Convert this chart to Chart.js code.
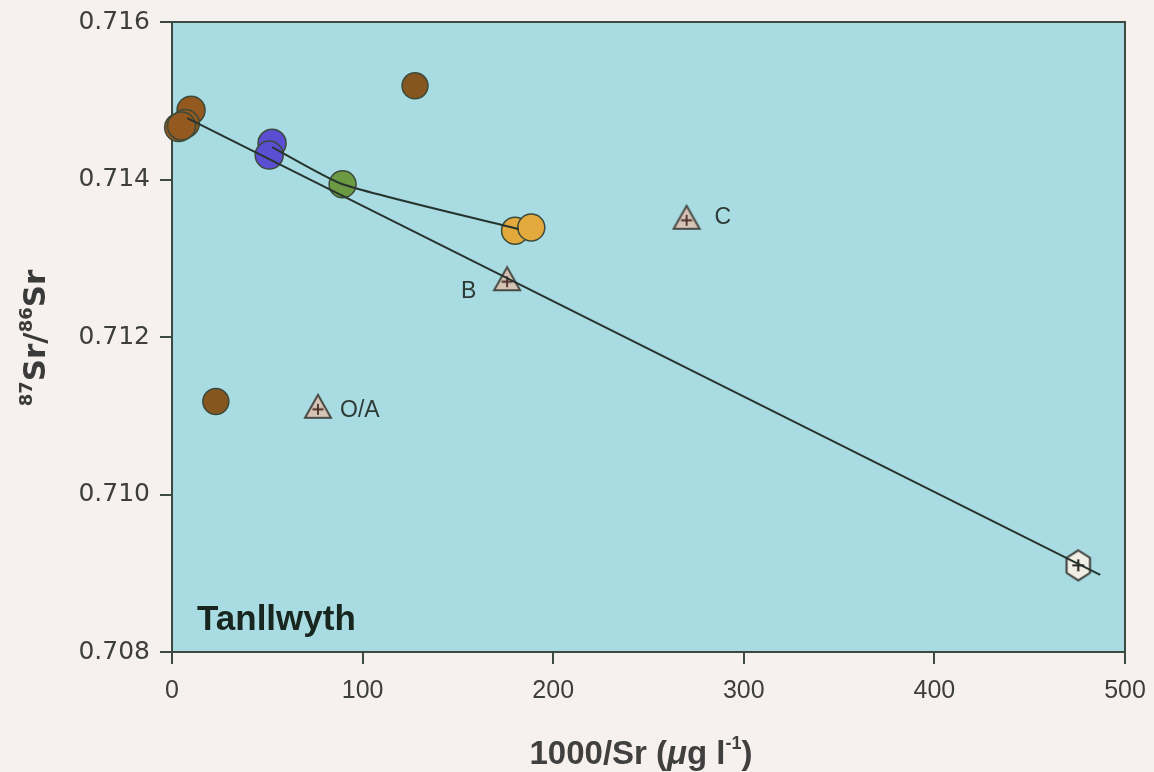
<!DOCTYPE html>
<html lang="en">
<head>
    <meta charset="UTF-8">
    <title>Tanllwyth Sr isotopes</title>
    <script src="https://cdn.jsdelivr.net/npm/chart.js"></script>
    <style>
        html, body {
            margin: 0;
            padding: 0;
            background: #f6f1ef;
            overflow: hidden;
        }
        canvas {
            display: block;
        }
    </style>
</head>
<body>
    <canvas id="srChart" width="1154" height="772"></canvas>
    <script>
        // stream water samples (x = 1000/Sr, y = 87Sr/86Sr)
        const brownClusterX = [10, 7, 3.5, 5];
        const brownClusterY = [0.71488, 0.71471, 0.71466, 0.71468];
        const brownOtherX = [127.5, 23];
        const brownOtherY = [0.71519, 0.71118];
        const blueX = [52.5, 51];
        const blueY = [0.71446, 0.71431];
        const greenX = [89.5];
        const greenY = [0.71394];
        const orangeX = [180, 188.5];
        const orangeY = [0.71335, 0.71339];

        // end members (soil / bedrock horizons) and rainfall
        const endNames = ['O/A', 'B', 'C'];
        const endX = [76.6, 175.8, 270];
        const endY = [0.71112, 0.71274, 0.71352];
        const rainX = [475.5];
        const rainY = [0.70910];

        // mixing lines
        const mixLineX = [8, 487];
        const mixLineY = [0.71478, 0.70898];
        const upperLineX = [52.5, 89.5, 182];
        const upperLineY = [0.71441, 0.71394, 0.71337];

        const xTicks = [0, 100, 200, 300, 400, 500];
        const yTicks = [0.708, 0.710, 0.712, 0.714, 0.716];

        const toPoints = (xs, ys) => xs.map((x, i) => ({ x: x, y: ys[i] }));

        function makeTriangle() {
            const c = document.createElement('canvas');
            c.width = 30; c.height = 27;
            const g = c.getContext('2d');
            g.beginPath();
            g.moveTo(15, 2);
            g.lineTo(28, 25);
            g.lineTo(2, 25);
            g.closePath();
            g.fillStyle = '#d5c4b6';
            g.fill();
            g.strokeStyle = '#4a4a44';
            g.lineWidth = 2;
            g.stroke();
            g.beginPath();
            g.moveTo(15, 11); g.lineTo(15, 22);
            g.moveTo(9.5, 16.5); g.lineTo(20.5, 16.5);
            g.strokeStyle = '#4a2e28';
            g.lineWidth = 1.8;
            g.stroke();
            return c;
        }

        function makeHexagon() {
            const c = document.createElement('canvas');
            c.width = 32; c.height = 34;
            const g = c.getContext('2d');
            g.beginPath();
            for (let i = 0; i < 6; i++) {
                const a = -Math.PI / 2 + i * Math.PI / 3;
                const px = 16 + 13.5 * Math.cos(a);
                const py = 17 + 15 * Math.sin(a);
                if (i === 0) g.moveTo(px, py); else g.lineTo(px, py);
            }
            g.closePath();
            g.fillStyle = '#f1efe6';
            g.fill();
            g.strokeStyle = '#3a3a36';
            g.lineWidth = 2;
            g.stroke();
            g.beginPath();
            g.moveTo(16, 11); g.lineTo(16, 23);
            g.moveTo(10, 17); g.lineTo(22, 17);
            g.strokeStyle = '#2a2a26';
            g.lineWidth = 2.2;
            g.stroke();
            return c;
        }

        // plot background, frame, titles and text labels
        const plotDecor = {
            id: 'plotDecor',
            beforeDraw(chart) {
                const { ctx, chartArea: a } = chart;
                ctx.save();
                ctx.fillStyle = '#a8dce2';
                ctx.fillRect(a.left, a.top, a.right - a.left, a.bottom - a.top);
                ctx.restore();
            },
            beforeDatasetsDraw(chart) {
                const { ctx, chartArea: a } = chart;
                ctx.save();
                ctx.strokeStyle = '#3d4a42';
                ctx.lineWidth = 2;
                ctx.strokeRect(a.left, a.top, a.right - a.left, a.bottom - a.top);
                ctx.restore();
            },
            afterDraw(chart) {
                const { ctx, chartArea: a, scales } = chart;
                ctx.save();

                // end member labels
                ctx.fillStyle = '#2e3a36';
                ctx.font = '23px "Liberation Sans", Arial, sans-serif';
                ctx.textBaseline = 'middle';
                ctx.textAlign = 'left';
                const offsets = [[22, 4], [-46, 13], [28, 0]];
                endNames.forEach((name, i) => {
                    const px = scales.x.getPixelForValue(endX[i]);
                    const py = scales.y.getPixelForValue(endY[i]);
                    ctx.fillText(name, px + offsets[i][0], py + offsets[i][1]);
                });

                // catchment name
                ctx.font = 'bold 35px "Liberation Sans", Arial, sans-serif';
                ctx.fillStyle = '#18261f';
                ctx.textBaseline = 'alphabetic';
                ctx.fillText('Tanllwyth', a.left + 25, a.bottom - 22);

                // y axis title with superscripts
                const big = 'bold 31px "DejaVu Sans", sans-serif';
                const small = 'bold 18px "DejaVu Sans", sans-serif';
                const parts = [['87', small, -13], ['Sr/', big, 0], ['86', small, -13], ['Sr', big, 0]];
                let total = 0;
                parts.forEach(p => { ctx.font = p[1]; total += ctx.measureText(p[0]).width; });
                ctx.translate(45, 338);
                ctx.rotate(-Math.PI / 2);
                ctx.fillStyle = '#3a3a3a';
                let cx = -total / 2;
                parts.forEach(p => {
                    ctx.font = p[1];
                    ctx.fillText(p[0], cx, p[2]);
                    cx += ctx.measureText(p[0]).width;
                });
                ctx.restore();

                // x axis title
                ctx.save();
                ctx.fillStyle = '#404040';
                ctx.translate(641, 764);
                const xParts = [
                    ['1000/Sr (', 'bold 33px "Liberation Sans", Arial, sans-serif', 0],
                    ['\u03bc', 'italic bold 33px "Liberation Sans", Arial, sans-serif', 0],
                    ['g l', 'bold 33px "Liberation Sans", Arial, sans-serif', 0],
                    ['-1', 'bold 18px "Liberation Sans", Arial, sans-serif', -15],
                    [')', 'bold 33px "Liberation Sans", Arial, sans-serif', 0]
                ];
                let xt = 0;
                xParts.forEach(p => { ctx.font = p[1]; xt += ctx.measureText(p[0]).width; });
                let xx = -xt / 2;
                xParts.forEach(p => {
                    ctx.font = p[1];
                    ctx.fillText(p[0], xx, p[2]);
                    xx += ctx.measureText(p[0]).width;
                });
                ctx.restore();
            }
        };

        const circle = (color, radius) => ({
            pointStyle: 'circle',
            pointRadius: radius,
            pointBackgroundColor: color,
            pointBorderColor: '#3c4a3a',
            pointBorderWidth: 1.5,
            showLine: false,
            clip: false
        });

        const ctx = document.getElementById('srChart').getContext('2d');
        const srChart = new Chart(ctx, {
            type: 'scatter',
            data: {
                datasets: [
                    {
                        label: 'mixing line',
                        data: toPoints(mixLineX, mixLineY),
                        showLine: true,
                        borderColor: '#27342e',
                        borderWidth: 2,
                        pointRadius: 0
                    },
                    {
                        label: 'upper line',
                        data: toPoints(upperLineX, upperLineY),
                        showLine: true,
                        borderColor: '#27342e',
                        borderWidth: 2,
                        tension: 0.2,
                        pointRadius: 0
                    },
                    { label: 'end members', data: toPoints(endX, endY), pointStyle: makeTriangle(), showLine: false },
                    { label: 'rain', data: toPoints(rainX, rainY), pointStyle: makeHexagon(), showLine: false },
                    Object.assign({ label: 'orange', data: toPoints(orangeX, orangeY) }, circle('#e3a93c', 13.5)),
                    Object.assign({ label: 'green', data: toPoints(greenX, greenY) }, circle('#6c9a42', 13.5)),
                    Object.assign({ label: 'blue', data: toPoints(blueX, blueY) }, circle('#5a4fd2', 14)),
                    Object.assign({ label: 'brown other', data: toPoints(brownOtherX, brownOtherY) }, circle('#85561f', 13)),
                    Object.assign({ label: 'brown cluster', data: toPoints(brownClusterX, brownClusterY) }, circle('#93591f', 14))
                ]
            },
            options: {
                responsive: false,
                animation: false,
                devicePixelRatio: 1,
                layout: { padding: { top: 22, right: 29, left: 0, bottom: 0 } },
                plugins: {
                    legend: { display: false },
                    tooltip: { enabled: false }
                },
                scales: {
                    x: {
                        type: 'linear',
                        min: 0,
                        max: 500,
                        afterBuildTicks: s => { s.ticks = xTicks.map(v => ({ value: v })); },
                        afterFit: s => {
                            s.height = 120;
                            s.paddingLeft = 0;
                            s.paddingRight = 0;
                        },
                        grid: {
                            drawOnChartArea: false,
                            tickLength: 12,
                            color: '#3d4a42',
                            lineWidth: 2
                        },
                        border: { display: false },
                        ticks: {
                            padding: 12,
                            color: '#3e3e3e',
                            font: { family: '"Liberation Sans", Arial, sans-serif', size: 25 },
                            maxRotation: 0
                        }
                    },
                    y: {
                        type: 'linear',
                        min: 0.708,
                        max: 0.716,
                        afterBuildTicks: s => { s.ticks = yTicks.map(v => ({ value: v })); },
                        afterFit: s => {
                            s.width = 172;
                            s.paddingTop = 0;
                            s.paddingBottom = 0;
                        },
                        grid: {
                            drawOnChartArea: false,
                            tickLength: 12,
                            color: '#3d4a42',
                            lineWidth: 2
                        },
                        border: { display: false },
                        ticks: {
                            padding: 10,
                            color: '#3e3e3e',
                            font: { family: '"DejaVu Sans", sans-serif', size: 25 },
                            callback: v => v.toFixed(3)
                        }
                    }
                }
            },
            plugins: [plotDecor]
        });
    </script>
</body>
</html>
